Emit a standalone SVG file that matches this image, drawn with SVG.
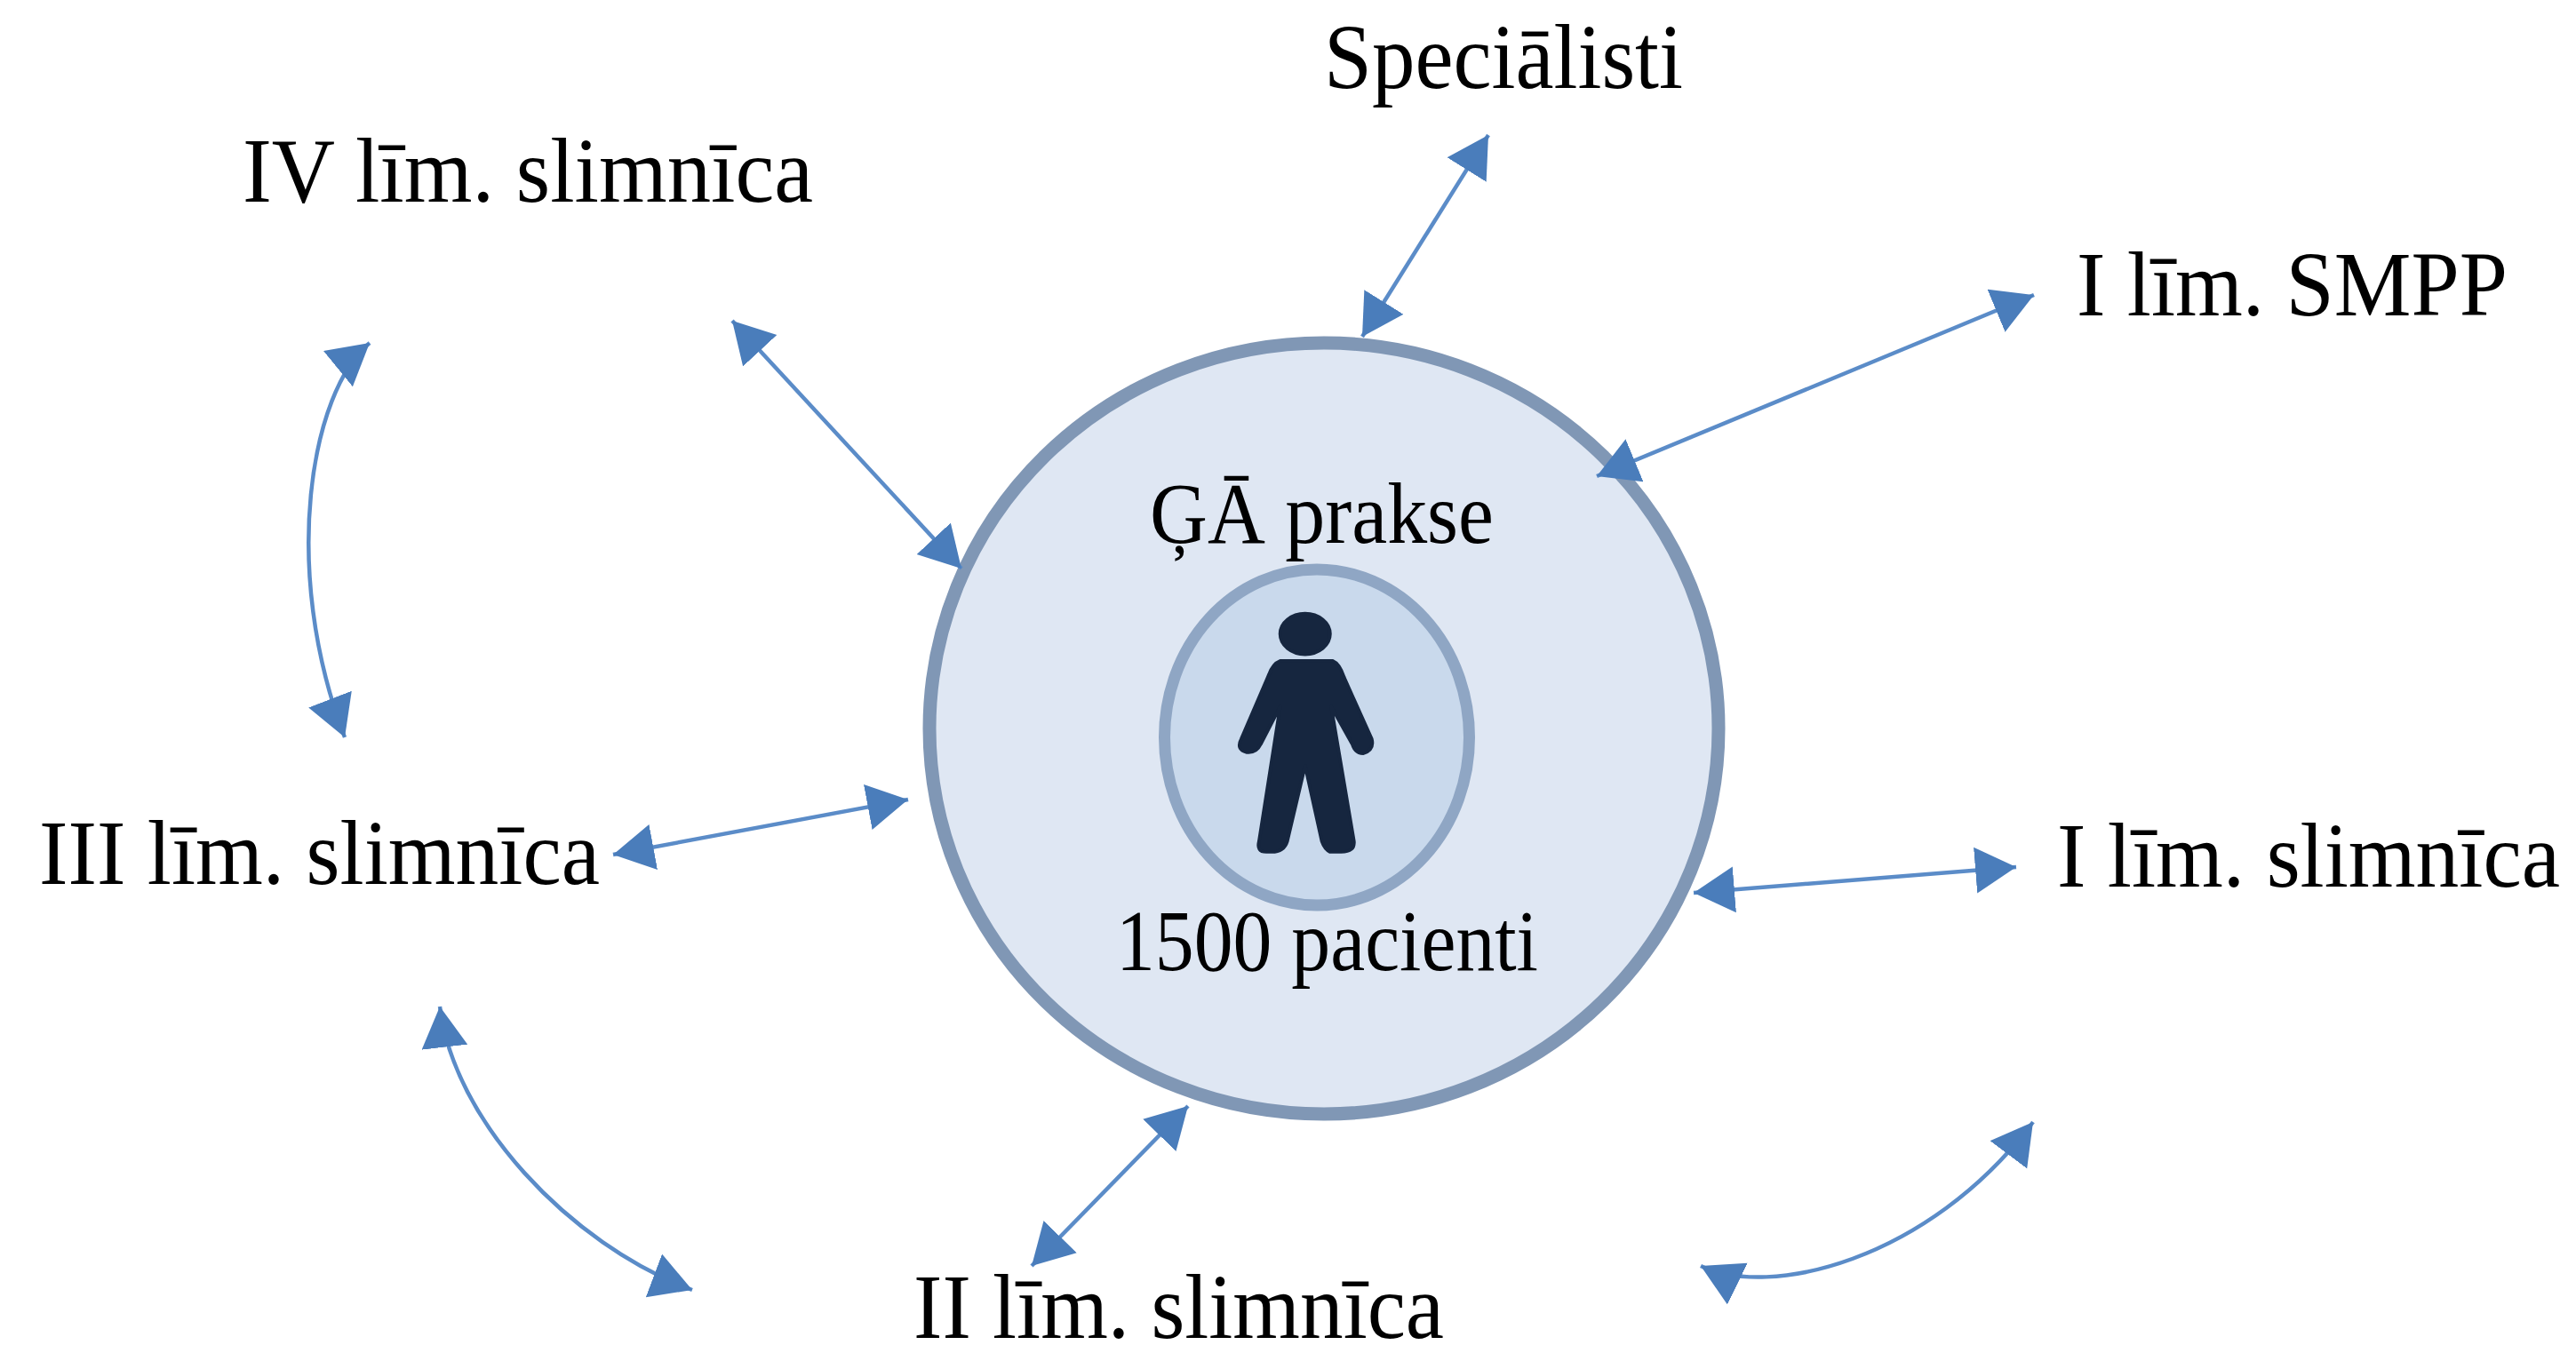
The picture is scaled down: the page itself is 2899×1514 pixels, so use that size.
<svg xmlns="http://www.w3.org/2000/svg" width="2899" height="1514" viewBox="0 0 2899 1514">
<style>
.t{font-family:"Liberation Serif","Times New Roman",serif;font-size:104px;fill:#000}
.i{font-size:98px}
.c{fill:none;stroke:#5b8cc8;stroke-width:4.5;marker-start:url(#h);marker-end:url(#h)}
</style>
<defs>
<marker id="h" markerUnits="userSpaceOnUse" markerWidth="50" markerHeight="54" refX="46" refY="26" orient="auto-start-reverse">
<path d="M0 0L46 26L0 52Z" fill="#4a7dbb"/>
</marker>
</defs>
<rect width="2899" height="1514" fill="#fff"/>
<g id="practice">
<ellipse cx="1490" cy="820" rx="444" ry="434" fill="#dfe7f3" stroke="#8097b5" stroke-width="15"/>
<ellipse cx="1482" cy="830" rx="171.500" ry="189" fill="#c9d9ec" stroke="#8fa6c4" stroke-width="13"/>
<g id="person" transform="translate(1000 350) scale(.625 .606)" fill="#16263f" stroke="#16263f" stroke-width="6" stroke-linejoin="round">
<ellipse cx="750" cy="600" rx="45" ry="38"/>
<path d="M705 650L800 650Q812 655 820 680L870 795Q875 815 855 822Q840 822 835 805L797 735L838 985Q840 1005 815 1005L795 1005Q785 1000 780 985L750 845L718 985Q712 1005 690 1005L680 1005Q662 1005 667 985L705 735L670 805Q662 822 645 820Q625 815 635 795L685 675Q692 655 705 650Z"/>
</g>
<text class="t i" x="1294" y="611" textLength="387" lengthAdjust="spacingAndGlyphs">ĢĀ prakse</text>
<text class="t i" x="1256" y="1092" textLength="475" lengthAdjust="spacingAndGlyphs">1500 pacienti</text>
</g>
<g id="specialisti"><text class="t" x="1490" y="99" textLength="404" lengthAdjust="spacingAndGlyphs">Speciālisti</text></g>
<g id="smpp"><text class="t" x="2337" y="355" textLength="485" lengthAdjust="spacingAndGlyphs">I līm. SMPP</text></g>
<g id="h4"><text class="t" x="273" y="227" textLength="642" lengthAdjust="spacingAndGlyphs">IV līm. slimnīca</text></g>
<g id="h3"><text class="t" x="44" y="995" textLength="631" lengthAdjust="spacingAndGlyphs">III līm. slimnīca</text></g>
<g id="h1"><text class="t" x="2315" y="998" textLength="566" lengthAdjust="spacingAndGlyphs">I līm. slimnīca</text></g>
<g id="h2"><text class="t" x="1028" y="1506" textLength="597" lengthAdjust="spacingAndGlyphs">II līm. slimnīca</text></g>
<g id="connectors">
<path class="c" d="M1533 379L1675 152"/>
<path class="c" d="M1797 536L2289 332"/>
<path class="c" d="M824 361L1082 640"/>
<path class="c" d="M690 962L1022 900"/>
<path class="c" d="M1906 1005L2269 976"/>
<path class="c" d="M1337 1245L1161 1425"/>
<path class="c" d="M416 386C350 440 315 640 388 830"/>
<path class="c" d="M495 1133C510 1260 640 1400 779 1452"/>
<path class="c" d="M1914 1425C1990 1462 2170 1420 2288 1263"/>
</g>
</svg>
